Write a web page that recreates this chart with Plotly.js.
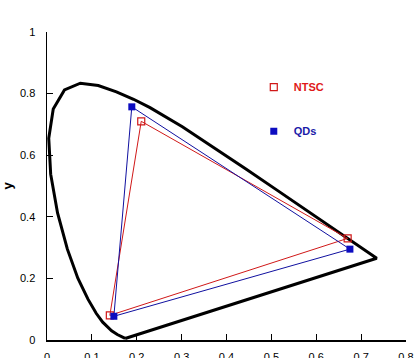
<!DOCTYPE html>
<html>
<head>
<meta charset="utf-8">
<script src="https://cdn.plot.ly/plotly-3.0.1.min.js"></script>
<style>html,body{margin:0;padding:0;background:#fff;}#chart{width:420px;height:358px;}</style>
</head>
<body>
<div id="chart"></div>
<script>
// Spectral locus (chromaticity outline)
var locusX = [0.1741, 0.1566, 0.1440, 0.1241, 0.1096, 0.0913, 0.0687, 0.0454, 0.0235, 0.0082, 0.0039, 0.0139, 0.0389, 0.0743, 0.1142, 0.1547, 0.1929, 0.2296, 0.3016, 0.3731, 0.4441, 0.5125, 0.5752, 0.6270, 0.6658, 0.6915, 0.7347, 0.1741];
var locusY = [0.0050, 0.0177, 0.0297, 0.0578, 0.0868, 0.1327, 0.2007, 0.2950, 0.4127, 0.5384, 0.6548, 0.7502, 0.8120, 0.8338, 0.8262, 0.8059, 0.7816, 0.7543, 0.6923, 0.6245, 0.5547, 0.4866, 0.4242, 0.3725, 0.3340, 0.3083, 0.2653, 0.0050];

// NTSC primaries (R, G, B)
var ntscX = [0.670, 0.210, 0.140];
var ntscY = [0.330, 0.710, 0.080];

// QDs primaries (R, G, B)
var qdX = [0.675, 0.189, 0.149];
var qdY = [0.295, 0.757, 0.077];

var xTicks = [0, 0.1, 0.2, 0.3, 0.4, 0.5, 0.6, 0.7, 0.8];
var yTicks = [0, 0.2, 0.4, 0.6, 0.8, 1];

function closed(a) { return a.concat([a[0]]); }

var traces = [
  {x: locusX, y: locusY, mode: 'lines', line: {color: '#000', width: 3}, showlegend: false, hoverinfo: 'skip'},
  {x: closed(ntscX), y: closed(ntscY), mode: 'lines', line: {color: '#d01818', width: 1}, showlegend: false},
  {x: closed(qdX), y: closed(qdY), mode: 'lines', line: {color: '#1010a0', width: 1}, showlegend: false},
  {x: ntscX, y: ntscY, mode: 'markers', name: '<b><span style="color:#e01818">NTSC</span></b>', legendgroup: 'a',
   marker: {symbol: 'square-open', size: 7, color: '#d01818', line: {width: 1.2}}},
  {x: qdX, y: qdY, mode: 'markers', name: '<b><span style="color:#1a1aa8">QDs</span></b>', legendgroup: 'b',
   marker: {symbol: 'square', size: 7, color: '#0c0cc0'}}
];

var layout = {
  width: 420, height: 358,
  margin: {l: 46.5, r: 13.5, t: 32, b: 18, pad: 0},
  paper_bgcolor: '#fff', plot_bgcolor: '#fff',
  font: {family: 'Liberation Sans, Arial, sans-serif', size: 11, color: '#000'},
  xaxis: {range: [0, 0.8], tickvals: xTicks, ticks: 'inside', ticklen: 6, tickwidth: 1, tickcolor: '#000',
          showline: true, linecolor: '#000', linewidth: 1.5, showgrid: false, zeroline: false,
          ticklabelstandoff: 6, fixedrange: true},
  yaxis: {range: [0, 1], tickvals: yTicks, ticks: 'inside', ticklen: 6, tickwidth: 1, tickcolor: '#000',
          showline: true, linecolor: '#000', linewidth: 1.5, showgrid: false, zeroline: false,
          ticklabelstandoff: 8, fixedrange: true,
          title: {text: '<b>y</b>', font: {size: 13}, standoff: 12}},
  showlegend: true,
  legend: {x: 0.576, y: 0.868, xanchor: 'left', yanchor: 'top', bgcolor: 'rgba(0,0,0,0)',
           traceorder: 'grouped', tracegroupgap: 25, font: {size: 11}}
};

Plotly.newPlot('chart', traces, layout, {displayModeBar: false, staticPlot: true});
</script>
</body>
</html>
